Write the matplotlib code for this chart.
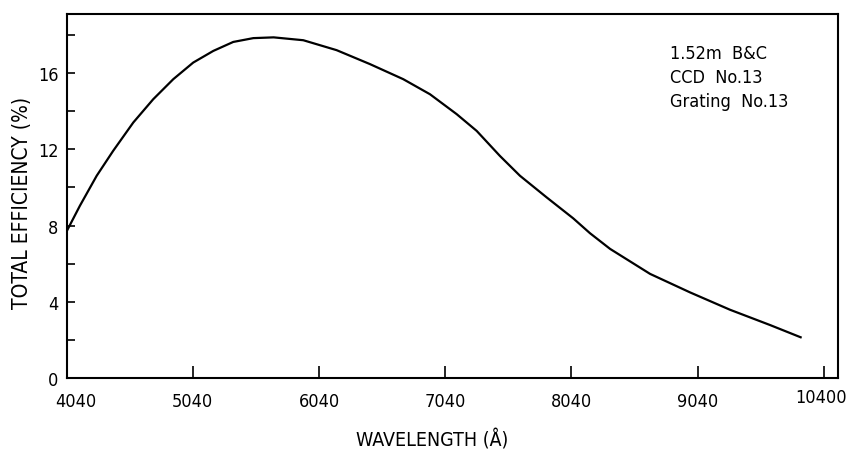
import matplotlib
matplotlib.use("Agg")
import matplotlib.pyplot as plt
from matplotlib import font_manager
from matplotlib.transforms import ScaledTranslation
from matplotlib.ticker import MultipleLocator

# Efficiency curve
wavelength = [4040, 4145, 4278, 4409, 4568, 4726, 4885, 5043, 5202, 5360,
              5519, 5680, 5915, 6179, 6443, 6707, 6919, 7130, 7289, 7473,
              7632, 7843, 8054, 8187, 8346, 8663, 8980, 9297, 9614, 9856]
efficiency = [7.7, 9.04, 10.61, 11.92, 13.40, 14.62, 15.67, 16.54, 17.15, 17.62,
              17.82, 17.86, 17.71, 17.19, 16.46, 15.67, 14.88, 13.84, 12.96, 11.65,
              10.61, 9.48, 8.38, 7.60, 6.78, 5.47, 4.50, 3.59, 2.79, 2.15]

x_ticks = [4040, 5040, 6040, 7040, 8040, 9040, 10040]
x_tick_labels = ["4040", "5040", "6040", "7040", "8040", "9040", "10400"]
y_ticks = [0, 4, 8, 12, 16]
note_lines = ["1.52m  B&C", "CCD  No.13", "Grating  No.13"]


def pick_narrow_font():
    """Look for a condensed sans face, the original lettering is narrow"""
    entries = font_manager.fontManager.ttflist
    for e in entries:
        if e.name == 'Liberation Sans Narrow':
            return 'Liberation Sans Narrow', 'normal'
    for e in entries:
        if e.name == 'DejaVu Sans' and e.stretch == 'condensed':
            return 'DejaVu Sans', 'condensed'
    return 'Liberation Sans', 'normal'


family, stretch = pick_narrow_font()
plt.rcParams['font.family'] = [family, 'DejaVu Sans']
plt.rcParams['font.stretch'] = stretch

fig = plt.figure(figsize=(8.48, 4.52), dpi=100)
ax = fig.add_axes([0.0786, 0.1608, 0.9096, 0.8067])

ax.plot(wavelength, efficiency, color='black', linewidth=1.6)

ax.set_xlim(4040, 10152)
ax.set_ylim(0, 19.1)

ax.set_xticks(x_ticks)
ax.set_xticklabels(x_tick_labels)
ax.set_yticks(y_ticks)
ax.yaxis.set_minor_locator(MultipleLocator(2))

ax.tick_params(axis='both', which='both', direction='in', width=1.2,
               labelsize=13, top=False, right=False)
ax.tick_params(axis='x', which='major', length=9, pad=10)
ax.tick_params(axis='y', which='both', length=6, pad=6)

# the 4040 label sits a little right of its tick, 10400 a bit left and higher
labels = ax.get_xticklabels()
labels[0].set_transform(labels[0].get_transform()
                        + ScaledTranslation(9 / 100, 0, fig.dpi_scale_trans))
labels[-1].set_transform(labels[-1].get_transform()
                         + ScaledTranslation(-3 / 100, 4 / 100, fig.dpi_scale_trans))

for s in ax.spines.values():
    s.set_linewidth(1.5)

ax.set_xlabel("WAVELENGTH (Å)", fontsize=14)
ax.xaxis.set_label_coords(0.474, -0.138)
ax.set_ylabel("TOTAL EFFICIENCY (%)", fontsize=15)
ax.yaxis.set_label_coords(-0.045, 0.484)

for i, line in enumerate(note_lines):
    ax.text(0.782, 0.878 - i * 0.066, line, transform=ax.transAxes,
            fontsize=13, va='baseline', ha='left')

fig.savefig("out.png", dpi=100)
